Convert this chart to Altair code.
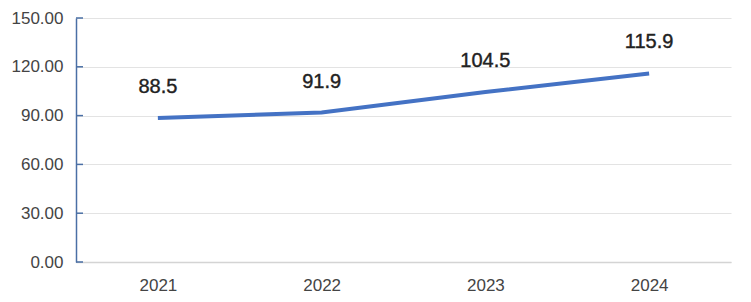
import altair as alt
import pandas as pd

years = ["2021", "2022", "2023", "2024"]
values = [88.5, 91.9, 104.5, 115.9]
y_ticks = [0, 30, 60, 90, 120, 150]

df = pd.DataFrame({"year": years, "value": values})
ticks_df = pd.DataFrame({"t": y_ticks})

FONT = "Liberation Sans"

x_scale = alt.Scale(type="point", padding=0.5)
y_scale = alt.Scale(domain=[0, 150], nice=False)

line = alt.Chart(df).mark_line(color="#4472C4", strokeWidth=4).encode(
    x=alt.X("year:N", sort=years, scale=x_scale,
            axis=alt.Axis(title=None, labelAngle=0, ticks=False, domainColor="#d4d4d4", domainWidth=1.5,
                          labelFont=FONT, labelFontSize=17, labelColor="#444444", labelPadding=15, grid=False)),
    y=alt.Y("value:Q", scale=y_scale,
            axis=alt.Axis(title=None, values=y_ticks, format=".2f", ticks=False, domain=True,
                          domainColor="#4a6fa5", domainWidth=1.5, gridColor="#e3e3e3", gridWidth=1.2,
                          labelFont=FONT, labelFontSize=17, labelColor="#444444", labelPadding=13)),
)

labels = alt.Chart(df).mark_text(dy=-31, font=FONT, fontSize=20, color="#222222",
                                 stroke="#222222", strokeWidth=0.4).encode(
    x=alt.X("year:N", sort=years, scale=x_scale),
    y=alt.Y("value:Q", scale=y_scale),
    text=alt.Text("value:Q", format=".1f"),
)

stubs = alt.Chart(ticks_df).mark_rule(color="#4a6fa5", strokeWidth=1.5).encode(
    x=alt.value(0), x2=alt.value(7),
    y=alt.Y("t:Q", scale=y_scale),
)

chart = alt.layer(line, stubs, labels).properties(
    width=655, height=244,
    padding={"left": 76, "top": 18, "right": 20, "bottom": 40},
    autosize=alt.AutoSizeParams(type="none"),
    background="white",
).configure_view(stroke=None)

chart.save("out.html", embed_options={"renderer": "svg", "actions": False})
